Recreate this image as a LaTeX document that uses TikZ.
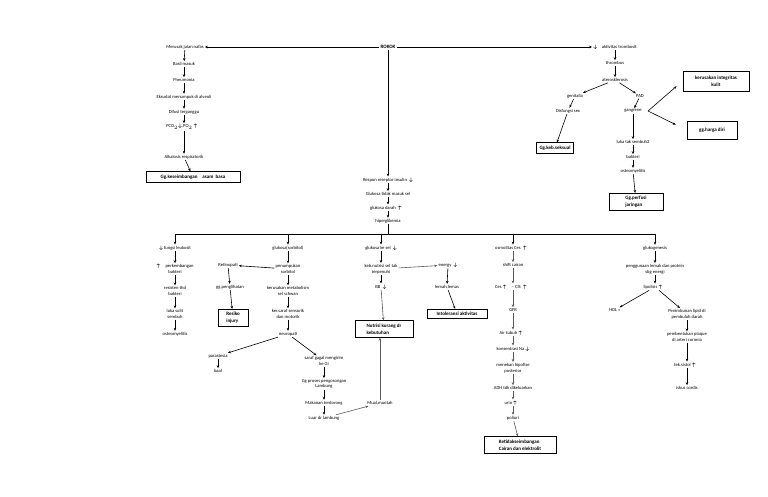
\documentclass[tikz,border=0pt]{standalone}
\usepackage{amsmath}
\usepackage{fontspec}
\setmainfont{Carlito}
\usetikzlibrary{arrows.meta}
\newcommand\myda{$\boldsymbol{\downarrow}$}
\newcommand\myua{$\boldsymbol{\uparrow}$}
\begin{document}
\begin{tikzpicture}[x=1pt,y=-1pt,
 t/.style={font=\fontsize{4.6}{5.6}\selectfont,align=center,inner sep=1pt},
 bx/.style={draw,line width=0.8pt,font=\fontsize{5}{7}\selectfont\bfseries,align=left,inner sep=3pt},
 a/.style={-{Stealth[length=3pt,width=2.5pt]},line width=0.6pt},
 g/.style={-{Stealth[length=3pt,width=2.5pt]},line width=0.6pt,gray!70!black}]
\fill[white] (0,0) rectangle (768,497);
\useasboundingbox (0,0) rectangle (768,497);
% left column
\node[t] (l1) at (185,47) {Merusak jalan nafas};
\node[t] (l2) at (184,64) {Basil masuk};
\node[t] (l3) at (184,80) {Pneumonia};
\node[t] (l4) at (184,97) {Eksudat menumpuk di alveoli};
\node[t] (l5) at (184,112) {Difusi terganggu};
\node[t] (l6) at (184,127) {PCO$_2$\myda,PO$_2$ \myua};
\node[t] (l7) at (184,157) {Alkalosis respiratorik};
\node[bx,minimum width=94pt] (l8) at (193,177) {Gg.keseimbangan\quad asam\ \ basa};
\foreach \p/\q in {l1/l2,l2/l3,l3/l4,l4/l5,l5/l6,l6/l7,l7/l8} \draw[a] (\p) -- (\q);
% rokok
\node[t,font=\fontsize{5}{6}\selectfont\bfseries] (rk) at (388,47) {ROKOK};
\draw[a] (rk) -- (l1);
\node[t] (r1) at (615,47) {\myda\quad aktivitas trombosit};
\draw[a] (rk) -- (r1);
\node[t] (r2) at (615,63) {thrombus};
\node[t] (r3) at (615,80) {aterosklerosis};
\node[t] (r4) at (575,96) {genitalia};
\node[t] (r5) at (640,96) {PAD};
\node[t] (r6) at (568,111) {Disfungsi sex};
\node[t] (r7) at (633,111) {gangrene};
\node[bx] (r8) at (555,148) {Gg.keb.seksual};
\node[bx,align=center,minimum width=66pt,minimum height=20pt] (r9) at (716,81) {kerusakan integritas\\kulit};
\node[bx,minimum width=50pt,minimum height=18pt] (r10) at (712,130) {gg.harga diri};
\node[t] (r11) at (633,142) {luka tak sembuh2};
\node[t] (r12) at (633,157) {bakteri};
\node[t] (r13) at (633,171) {osteomyelitis};
\node[bx,minimum width=54pt] (r14) at (636,202) {Gg.perfusi\\jaringan};
\foreach \p/\q in {r1/r2,r2/r3,r3/r4,r3/r5,r4/r6,r6/r8,r5/r7,r7/r11,r11/r12,r12/r13,r13/r14} \draw[a] (\p) -- (\q);
\coordinate (gv) at (648,111);
\draw[a,shorten >=8pt] (gv) -- (r9.west);
\draw[a,shorten >=12pt] (gv) -- (r10.west);
% centre
\node[t] (c1) at (388,180) {Respon reseptor insulin\ \ \myda};
\node[t] (c2) at (388,194) {Glukosa tidak masuk sel};
\node[t] (c3) at (388,208) {glukosa darah\ \ \myua};
\node[t] (c4) at (388,221) {hiperglikemia};
\draw[a] (rk) -- (c1);
\foreach \p/\q in {c1/c2,c2/c3,c3/c4} \draw[a] (\p) -- (\q);
\coordinate (bus) at (388,234);
\draw[line width=0.7pt] (c4) -- (bus);
\draw[line width=0.7pt] (175,234) -- (655,234);
% col1
\node[t] (a1) at (175,248) {\myda\ fungsi leukosit};
\node[t] (a2) at (175,269) {\myua\ perkembangan\\bakteri};
\node[t] (a3) at (175,291) {resisten thd\\bakteri};
\node[t] (a4) at (175,314) {luka sulit\\sembuh};
\node[t] (a5) at (175,334) {osteomyelitis};
\foreach \p/\q in {a1/a2,a2/a3,a3/a4,a4/a5} \draw[a] (\p) -- (\q);
% col2
\node[t] (b1) at (288,248) {glukosa(sorbitol)};
\node[t] (b2) at (288,269) {penumpukan\\sorbitol};
\node[t] (b3) at (228,265) {Retinopati};
\node[t] (b4) at (230,287) {gg.penglihatan};
\node[bx,minimum width=30pt] (b5) at (233,318) {Resiko\\injury};
\node[t] (b6) at (288,291) {kerusakan metabolism\\sel schwan};
\node[t] (b7) at (288,314) {ker.saraf sensorik\\dan motorik};
\node[t] (b8) at (288,334) {neuropati};
\node[t] (b9) at (218,356) {parastesia};
\node[t] (b10) at (218,371) {baal};
\node[t] (b11) at (324,361) {saraf gagal mengirim\\ke GI};
\node[t] (b12) at (324,384) {Gg proses pengosongan\\Lambung};
\node[t] (b13) at (324,403) {Makanan terdorong};
\node[t] (b14) at (324,418) {Luar dr lambung};
\node[t] (b15) at (380,403) {Mual,muntah};
\foreach \p/\q in {b1/b2,b2/b3,b3/b4,b4/b5,b2/b6,b6/b7,b7/b8,b8/b9,b9/b10,b8/b11,b11/b12,b12/b13,b13/b14} \draw[a] (\p) -- (\q);
\draw[g] (b14) -- (b15);
% col3
\node[t] (d1) at (381,248) {glukosa ke sel\ \ \myda};
\node[t] (d2) at (381,269) {keb.nutrisi sel tak\\terpenuhi};
\node[t] (d3) at (381,287) {BB\ \ \myda};
\node[bx,minimum width=58pt] (d4) at (384,329) {Nutrisi kurang dr\\kebutuhan};
\node[t] (d5) at (448,265) {energy\ \ \myda};
\node[t] (d6) at (447,287) {lemah,lemas};
\node[bx,minimum width=60pt] (d7) at (457,314) {Intoleransi aktivitas};
\foreach \p/\q in {d1/d2,d2/d3,d5/d6,d6/d7} \draw[a] (\p) -- (\q);
\draw[g] (d3) -- (d4);
\draw[g] (b15) -- (d4.south -| b15);
\draw[g] (d2) -- (d5);
% col4
\node[t] (e1) at (513,248) {osmolitas Ces\ \ \myua};
\node[t] (e2) at (513,265) {shift cairan};
\node[t] (e3) at (513,287) {Ces \myua\ -- CIS\ \ \myua};
\node[t] (e4) at (513,310) {GFR};
\node[t] (e5) at (513,333) {Air tubuh \myua};
\node[t] (e6) at (513,349) {konsentrasi Na \myda};
\node[t] (e7) at (513,368) {menekan hipofise\\posterior};
\node[t] (e8) at (513,388) {ADH tdk dikeluarkan};
\node[t] (e9) at (513,403) {urin \myua};
\node[t] (e10) at (513,418) {poliuri};
\node[bx,minimum width=72pt] (e11) at (520,445) {Ketidakseimbangan\\Cairan dan elektrolit};
\foreach \p/\q in {e1/e2,e2/e3,e3/e4,e4/e5,e5/e6,e6/e7,e7/e8,e8/e9,e9/e10,e10/e11} \draw[g] (\p) -- (\q);
% col5
\node[t] (f1) at (655,248) {glukogenesis};
\node[t] (f2) at (655,269) {penggunaan lemak dan protein\\sbg energi};
\node[t] (f3) at (655,287) {lipolisis \myua};
\node[t] (f4) at (615,310) {HDL \textless\textless};
\node[t] (f5) at (687,314) {Penimbunan lipid di\\pembuluh darah};
\node[t] (f6) at (687,337) {pembentukan plaque\\di arteri coronia};
\node[t] (f7) at (687,365) {tek.sistol \myua};
\node[t] (f8) at (687,388) {iskus cordis};
\foreach \p/\q in {f1/f2,f2/f3,f3/f4,f3/f5,f5/f6,f6/f7,f7/f8} \draw[a] (\p) -- (\q);
% bus drops
\foreach \n/\x in {a1/175,b1/288,d1/381,e1/513,f1/655} \draw[a] (\x,234) -- (\n);
\end{tikzpicture}
\end{document}
